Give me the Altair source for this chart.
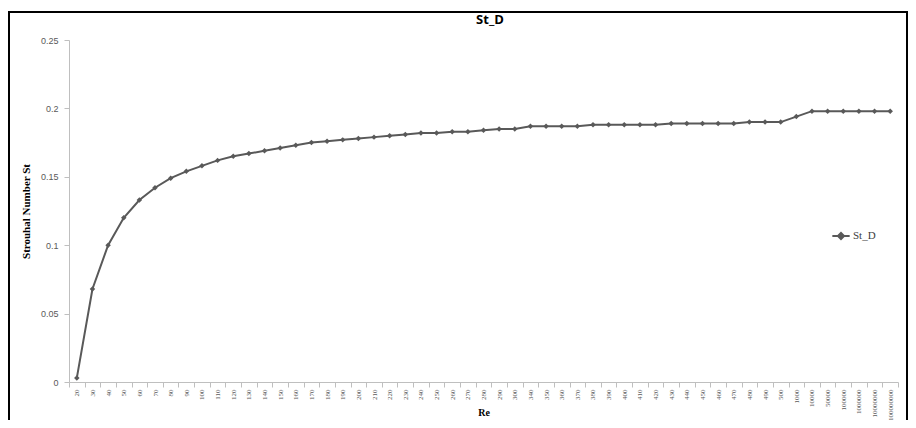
import altair as alt
import pandas as pd

re_labels = ["20", "30", "40", "50", "60", "70", "80", "90", "100", "110", "120", "130",
             "140", "150", "160", "170", "180", "190", "200", "210", "220", "230", "240",
             "250", "260", "270", "280", "290", "300", "340", "350", "360", "370", "380",
             "390", "400", "410", "420", "430", "440", "450", "460", "470", "480", "490",
             "500", "1000", "10000", "50000", "100000", "1000000", "10000000", "100000000"]
st_values = [0.003, 0.068, 0.100, 0.120, 0.133, 0.142, 0.149, 0.154, 0.158, 0.162, 0.165, 0.167,
             0.169, 0.171, 0.173, 0.175, 0.176, 0.177, 0.178, 0.179, 0.180, 0.181, 0.182,
             0.182, 0.183, 0.183, 0.184, 0.185, 0.185, 0.187, 0.187, 0.187, 0.187, 0.188,
             0.188, 0.188, 0.188, 0.188, 0.189, 0.189, 0.189, 0.189, 0.189, 0.190, 0.190,
             0.190, 0.194, 0.198, 0.198, 0.198, 0.198, 0.198, 0.198]
series_name = "St_D"
chart_title = "St_D"

df = pd.DataFrame({"Re": re_labels, "St": st_values, "series": [series_name] * len(re_labels)})

gray = "#595959"

x_enc = alt.X("Re:O", sort=re_labels, bandPosition=0.5,
              scale=alt.Scale(type="band", paddingInner=0, paddingOuter=0),
              axis=alt.Axis(title="Re", labelAngle=270, labelFont="Liberation Serif",
                            labelFontSize=7, labelColor=gray, labelPadding=2,
                            tickBand="extent", tickSize=5, tickColor="#bfbfbf",
                            domainColor="#bfbfbf", grid=False,
                            titleFont="Liberation Serif", titleFontSize=10,
                            titleFontWeight="bold", titleColor="#000000",
                            titleY=25, titleBaseline="top"))
y_enc = alt.Y("St:Q", scale=alt.Scale(domain=[0, 0.25]),
              axis=alt.Axis(title="Strouhal Number St", values=[0, 0.05, 0.1, 0.15, 0.2, 0.25],
                            format="~g", labelFont="Liberation Sans", labelFontSize=9,
                            labelColor=gray, labelPadding=6, tickSize=5, tickColor="#bfbfbf",
                            domainColor="#bfbfbf", grid=False,
                            titleFont="Liberation Serif", titleFontSize=11,
                            titleFontWeight="bold", titleColor="#000000", titleX=-38))

color_enc = alt.Color("series:N", scale=alt.Scale(range=[gray]),
                      legend=alt.Legend(title=None, orient="none", legendX=762, legendY=186,
                                        symbolType="M-1,0L1,0M-0.35,0L0,-0.35L0.35,0L0,0.35Z",
                                        symbolSize=300, symbolStrokeWidth=2,
                                        symbolFillColor=gray, symbolStrokeColor=gray,
                                        labelFont="Liberation Serif", labelFontSize=11,
                                        labelColor="#404040", labelOffset=2))

line = alt.Chart(df).mark_line(strokeWidth=2).encode(x=x_enc, y=y_enc, color=color_enc)
pts = alt.Chart(df).mark_point(shape="diamond", filled=True, size=30, opacity=1).encode(
    x=x_enc, y=y_enc, color=alt.Color("series:N", scale=alt.Scale(range=[gray]), legend=None))

frame = alt.Chart(pd.DataFrame({"a": [0]})).mark_rect(
    fill=None, stroke="#000000", strokeWidth=2).encode(
    x=alt.value(-60), x2=alt.value(838), y=alt.value(-28), y2=alt.value(420))

title_mark = alt.Chart(pd.DataFrame({"t": [chart_title]})).mark_text(
    font="Open Sans", fontSize=13, fontWeight="bold", color="#000000",
    align="center", baseline="middle").encode(
    text="t:N", x=alt.value(421), y=alt.value(-20))

chart = alt.layer(frame, line, pts, title_mark).properties(
    width=829, height=342,
    autosize=alt.AutoSizeParams(type="none"),
    padding={"left": 61, "top": 32, "right": 10, "bottom": 38},
).configure_view(stroke=None)

chart.save("out.html", embed_options={"renderer": "svg", "actions": False})
